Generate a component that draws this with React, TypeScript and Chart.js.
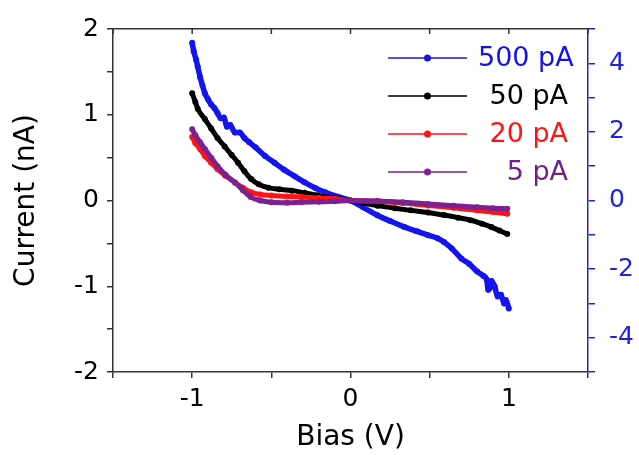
import React, { useEffect, useRef } from "react";
import { Chart, registerables } from "chart.js";
Chart.register(...registerables);

// ---- data ----
const seriesLabels = ["500 pA", "50 pA", "20 pA", "5 pA"];
const seriesColors = ["#1414f0", "#000000", "#ff1414", "#7d2090"];
const legendTextColors = ["#1414e6", "#000000", "#ff1414", "#6e2286"];

// 500 pA (right axis)
const bias500 = [-1.0, -0.99, -0.975, -0.965, -0.95, -0.935, -0.92, -0.9, -0.88, -0.86, -0.84, -0.82, -0.8, -0.78, -0.76, -0.73, -0.7, -0.67, -0.64, -0.6, -0.54, -0.48, -0.42, -0.35, -0.29, -0.22, -0.16, -0.08, 0.0, 0.08, 0.17, 0.25, 0.34, 0.42, 0.49, 0.55, 0.59, 0.64, 0.7, 0.75, 0.8, 0.84, 0.86, 0.87, 0.88, 0.89, 0.91, 0.93, 0.95, 0.97, 0.98, 1.0];
const current500 = [4.6, 4.35, 4.1, 3.9, 3.6, 3.35, 3.13, 2.95, 2.8, 2.7, 2.55, 2.4, 2.42, 2.15, 2.2, 1.98, 1.98, 1.82, 1.7, 1.55, 1.3, 1.1, 0.9, 0.7, 0.53, 0.36, 0.24, 0.11, 0.0, -0.2, -0.43, -0.6, -0.77, -0.9, -1.01, -1.1, -1.21, -1.4, -1.69, -1.85, -2.07, -2.2, -2.3, -2.6, -2.55, -2.35, -2.5, -2.8, -2.75, -3.0, -2.9, -3.15];

// 50 pA
const bias50 = [-1.0, -0.98, -0.965, -0.92, -0.88, -0.84, -0.795, -0.75, -0.71, -0.67, -0.627, -0.58, -0.52, -0.45, -0.37, -0.29, -0.21, -0.1, 0.0, 0.08, 0.17, 0.28, 0.38, 0.49, 0.59, 0.68, 0.76, 0.83, 0.89, 0.94, 0.99];
const current50 = [1.25, 1.15, 1.07, 0.95, 0.84, 0.73, 0.63, 0.53, 0.44, 0.34, 0.25, 0.19, 0.15, 0.13, 0.115, 0.09, 0.06, 0.03, 0.0, -0.03, -0.06, -0.09, -0.115, -0.14, -0.17, -0.2, -0.23, -0.27, -0.31, -0.35, -0.39];

// 20 pA
const bias20 = [-1.0, -0.98, -0.95, -0.92, -0.88, -0.84, -0.79, -0.73, -0.68, -0.627, -0.57, -0.5, -0.4, -0.31, -0.2, -0.1, 0.0, 0.17, 0.33, 0.49, 0.65, 0.8, 0.9, 0.99];
const current20 = [0.74, 0.67, 0.6, 0.52, 0.44, 0.365, 0.29, 0.21, 0.15, 0.096, 0.07, 0.058, 0.048, 0.04, 0.03, 0.02, 0.0, -0.01, -0.03, -0.058, -0.085, -0.115, -0.135, -0.155];

// 5 pA
const bias5 = [-1.0, -0.98, -0.95, -0.92, -0.88, -0.84, -0.79, -0.73, -0.68, -0.63, -0.57, -0.5, -0.4, -0.31, -0.2, -0.1, 0.0, 0.17, 0.33, 0.49, 0.65, 0.8, 0.9, 0.99];
const current5 = [0.83, 0.76, 0.68, 0.6, 0.5, 0.4, 0.3, 0.21, 0.12, 0.04, 0.0, -0.02, -0.025, -0.02, -0.015, -0.01, 0.0, -0.005, -0.02, -0.04, -0.06, -0.08, -0.09, -0.095];

const xTickValues = [-1.5, -1, -0.5, 0, 0.5, 1, 1.5];

const FONT = "'DejaVu Sans', sans-serif";
const AXIS_COLOR = "#333333";
const RIGHT_COLOR = "#2222dd";

const zip = (xs: number[], ys: number[]) => xs.map((x, i) => ({ x, y: ys[i] }));

const topTicksPlugin = {
  id: "topTicks",
  afterDraw(chart: any) {
    const { ctx, chartArea } = chart;
    const xs = chart.scales.x;
    ctx.save();
    ctx.strokeStyle = AXIS_COLOR;
    ctx.lineWidth = 1.5;
    xTickValues.forEach((v) => {
      const px = xs.getPixelForValue(v);
      ctx.beginPath();
      ctx.moveTo(px, chartArea.top);
      ctx.lineTo(px, chartArea.top + 5);
      ctx.stroke();
    });
    ctx.restore();
  },
};

const legendPlugin = {
  id: "inlineLegend",
  afterDraw(chart: any) {
    const { ctx, chartArea } = chart;
    const x0 = chartArea.right - 200;
    const x1 = chartArea.right - 121;
    const xm = (x0 + x1) / 2;
    ctx.save();
    ctx.font = `27px ${FONT}`;
    ctx.textBaseline = "middle";
    seriesLabels.forEach((label, i) => {
      const y = chartArea.top + 29 + i * 38;
      ctx.strokeStyle = seriesColors[i];
      ctx.lineWidth = 1.5;
      ctx.beginPath();
      ctx.moveTo(x0, y);
      ctx.lineTo(x1, y);
      ctx.stroke();
      ctx.fillStyle = seriesColors[i];
      ctx.beginPath();
      ctx.arc(xm, y, 3.5, 0, Math.PI * 2);
      ctx.fill();
      ctx.fillStyle = legendTextColors[i];
      if (i === 0) {
        ctx.textAlign = "left";
        ctx.fillText(label, chartArea.right - 110, y + 1);
      } else {
        ctx.textAlign = "right";
        ctx.fillText(label, chartArea.right - 20, y + 1);
      }
    });
    ctx.restore();
  },
};

export default function App() {
  const ref = useRef<HTMLCanvasElement | null>(null);
  useEffect(() => {
    if (!ref.current) return;
    const mk = (label: string, xs: number[], ys: number[], color: string, axis: string, bw: number) => ({
      label,
      data: zip(xs, ys),
      borderColor: color,
      backgroundColor: color,
      borderWidth: bw,
      pointRadius: 3,
      pointBorderWidth: 0,
      showLine: true,
      cubicInterpolationMode: "monotone" as const,
      yAxisID: axis,
      xAxisID: "x",
    });
    const chart = new Chart(ref.current, {
      type: "scatter",
      data: {
        datasets: [
          mk(seriesLabels[3], bias5, current5, seriesColors[3], "y", 5),
          mk(seriesLabels[2], bias20, current20, seriesColors[2], "y", 5),
          mk(seriesLabels[1], bias50, current50, seriesColors[1], "y", 5),
          mk(seriesLabels[0], bias500, current500, seriesColors[0], "y2", 5.5),
        ],
      },
      options: {
        animation: false,
        responsive: false,
        layout: { padding: 0 },
        plugins: { legend: { display: false }, tooltip: { enabled: false } },
        scales: {
          x: {
            type: "linear",
            position: "bottom",
            min: -1.5,
            max: 1.5,
            afterFit: (s: any) => { s.height = 83; },
            afterBuildTicks: (s: any) => { s.ticks = xTickValues.map((v) => ({ value: v })); },
            ticks: {
              color: "#000",
              font: { family: FONT, size: 25 },
              padding: 6,
              maxRotation: 0,
              autoSkip: false,
              callback: (v: any) => (Number.isInteger(Number(v)) ? String(v) : ""),
            },
            grid: { drawOnChartArea: false, drawTicks: true, tickLength: 6, color: AXIS_COLOR, lineWidth: 1.5 },
            border: { display: true, color: AXIS_COLOR, width: 1.5 },
            title: {
              display: true,
              text: "Bias (V)",
              color: "#000",
              font: { family: FONT, size: 28 },
              padding: { top: 0, bottom: 0 },
            },
          },
          x2: {
            type: "linear",
            position: "top",
            min: -1.5,
            max: 1.5,
            afterFit: (s: any) => { s.height = 25; },
            ticks: { display: false },
            grid: { drawOnChartArea: false, drawTicks: false },
            border: { display: true, color: AXIS_COLOR, width: 1.5 },
          },
          y: {
            type: "linear",
            position: "left",
            min: -2,
            max: 2,
            afterFit: (s: any) => { s.width = 113; },
            ticks: {
              stepSize: 0.5,
              color: "#000",
              font: { family: FONT, size: 25 },
              padding: 8,
              autoSkip: false,
              callback: (v: any) => (Number.isInteger(Number(v)) ? String(v) : ""),
            },
            grid: { drawOnChartArea: false, drawTicks: true, tickLength: 6, color: AXIS_COLOR, lineWidth: 1.5 },
            border: { display: true, color: AXIS_COLOR, width: 1.5 },
            title: {
              display: true,
              text: "Current (nA)",
              color: "#000",
              font: { family: FONT, size: 28 },
              padding: { top: 10, bottom: 0 },
            },
          },
          y2: {
            type: "linear",
            position: "right",
            min: -5,
            max: 5,
            afterFit: (s: any) => { s.width = 51; },
            ticks: {
              stepSize: 1,
              color: RIGHT_COLOR,
              font: { family: FONT, size: 25 },
              padding: 14,
              autoSkip: false,
              callback: (v: any) => (Number(v) % 2 === 0 && Math.abs(Number(v)) < 5 ? String(v) : ""),
            },
            grid: { drawOnChartArea: false, drawTicks: true, tickLength: 7, color: RIGHT_COLOR, lineWidth: 1.5 },
            border: { display: true, color: RIGHT_COLOR, width: 1.5 },
          },
        },
      },
      plugins: [topTicksPlugin, legendPlugin],
    } as any);
    return () => chart.destroy();
  }, []);

  return (
    <div style={{ position: "fixed", left: 0, top: 0, width: 639, height: 455, background: "#fff" }}>
      <canvas ref={ref} width={639} height={455} />
    </div>
  );
}
